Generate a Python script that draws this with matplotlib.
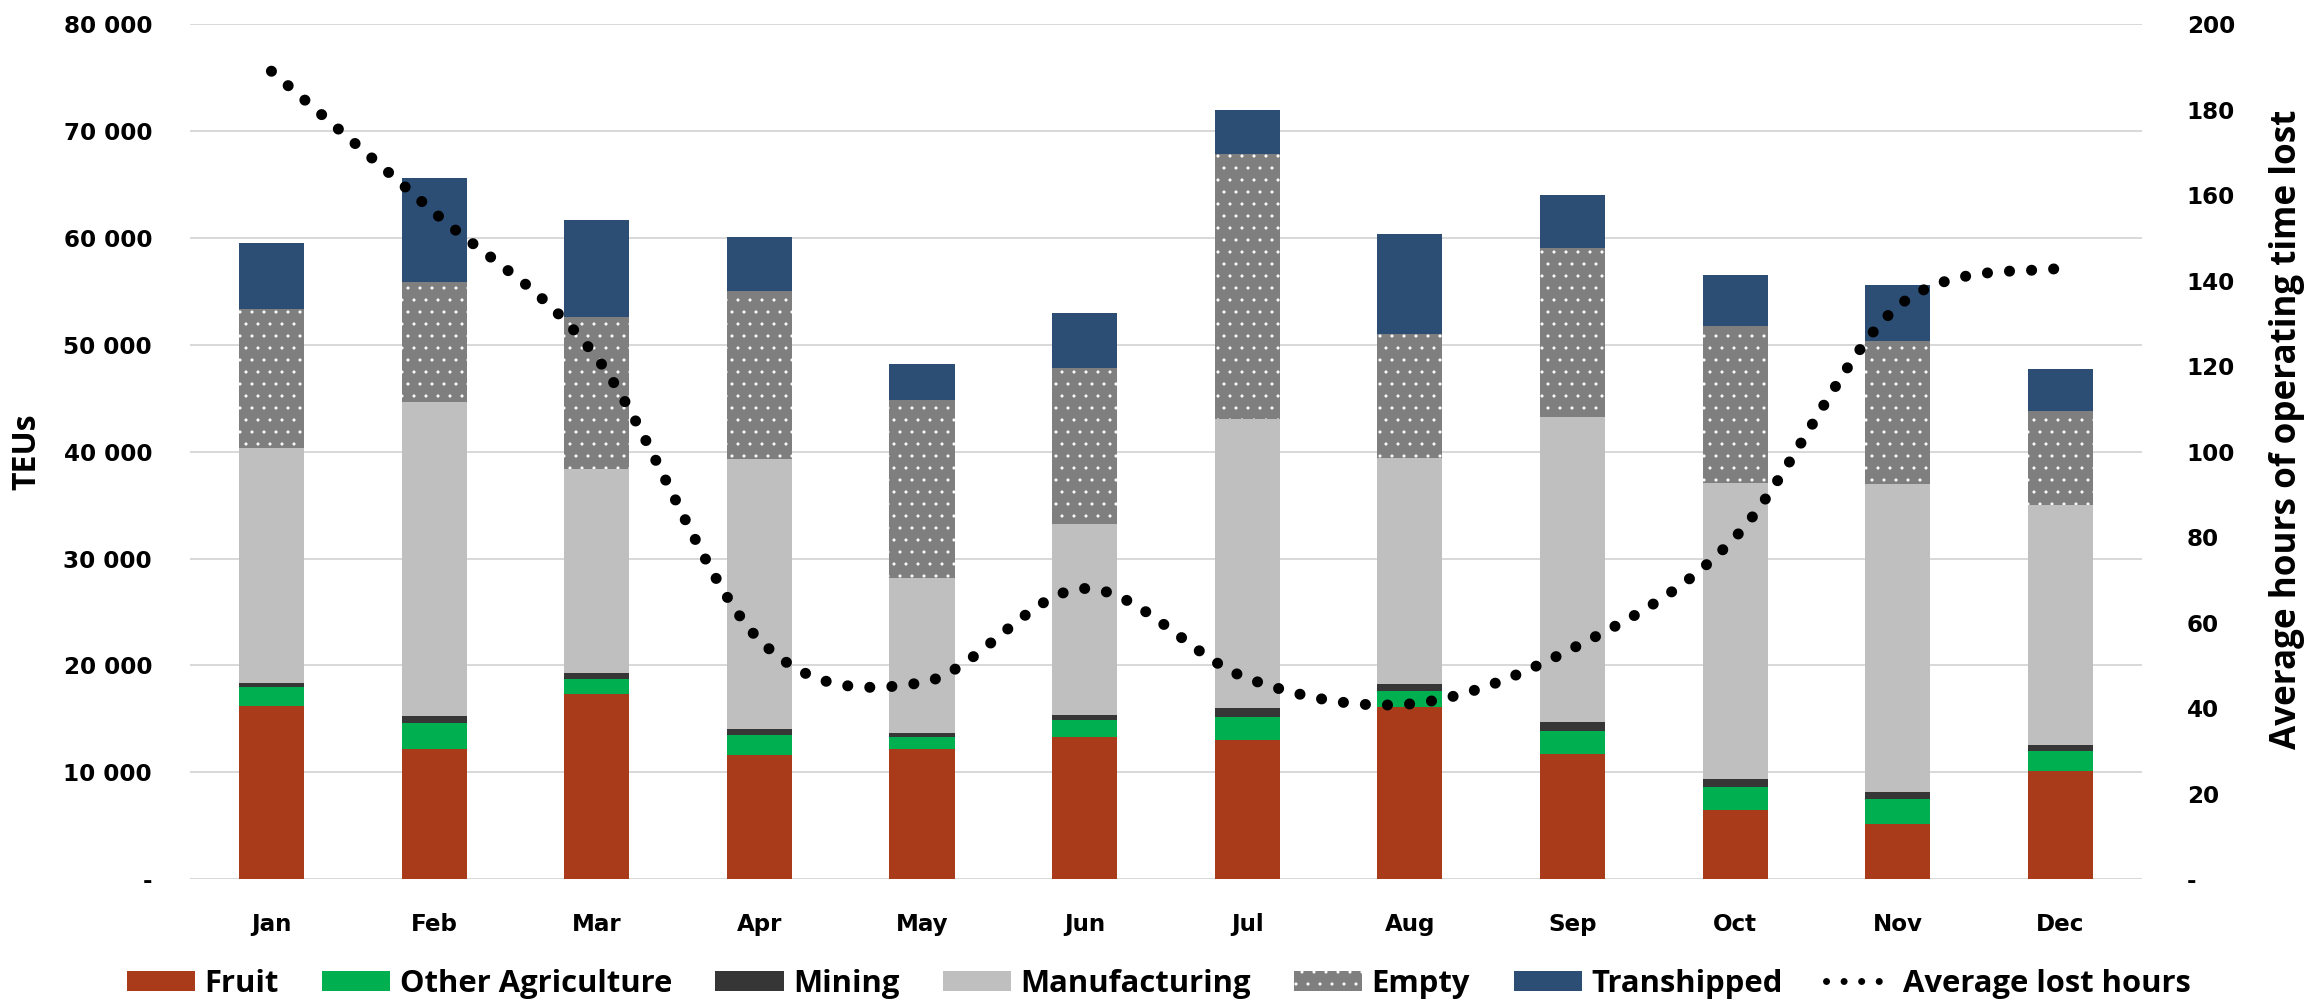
import numpy as np
import matplotlib
matplotlib.use("Agg")
import matplotlib.pyplot as plt
from matplotlib.path import Path
from matplotlib.patches import PathPatch
from matplotlib.lines import Line2D
from matplotlib.font_manager import FontProperties
from matplotlib.ticker import FuncFormatter, MultipleLocator

# monthly TEUs by cargo type, plus average lost operating hours
months = ["Jan", "Feb", "Mar", "Apr", "May", "Jun",
          "Jul", "Aug", "Sep", "Oct", "Nov", "Dec"]
fruit = [16250, 12170, 17290, 11580, 12230, 13290, 13070, 16130, 11760, 6520, 5210, 10170]
other_agri = [1690, 2430, 1430, 1960, 1060, 1590, 2130, 1500, 2130, 2120, 2280, 1840]
mining = [440, 660, 590, 530, 410, 500, 840, 680, 810, 780, 680, 560]
manufacturing = [21960, 29420, 19030, 25240, 14510, 17820, 27050, 21130, 28580, 27660, 28770, 22430]
empty = [13050, 11240, 14300, 15770, 16660, 14660, 24790, 11610, 15820, 14660, 13390, 8840]
transhipped = [6120, 9710, 8990, 5050, 3340, 5090, 4120, 9300, 4940, 4830, 5250, 3870]
lost_hours = [189, 156, 122, 56, 46, 68, 47, 41, 54, 80, 134, 143]

series = [
    ("Fruit", fruit, "#a93a1a", None),
    ("Other Agriculture", other_agri, "#00b050", None),
    ("Mining", mining, "#363636", None),
    ("Manufacturing", manufacturing, "#bfbfbf", None),
    ("Empty", empty, "#7f7f7f", "."),
    ("Transhipped", transhipped, "#2c4e75", None),
]

DPI = 72
plt.rcParams["hatch.linewidth"] = 0.6
TICK_FONT = dict(family="DejaVu Sans", weight="bold", size=23)
LEGEND_FONT = dict(family="Open Sans", weight="bold", size=31)


def smooth_path(xs, ys):
    # Catmull-Rom style bezier through the points (smoothed line)
    pts = np.column_stack([xs, ys]).astype(float)
    n = len(pts)
    verts = [pts[0]]
    codes = [Path.MOVETO]
    for i in range(n - 1):
        p0 = pts[max(i - 1, 0)]
        p1 = pts[i]
        p2 = pts[i + 1]
        p3 = pts[min(i + 2, n - 1)]
        verts += [p1 + (p2 - p0) / 6.0, p2 - (p3 - p1) / 6.0, p2]
        codes += [Path.CURVE4] * 3
    return Path(verts, codes)


def teu_fmt(v, pos):
    if v == 0:
        return "-"
    return "{:,.0f}".format(v).replace(",", " ")


def hours_fmt(v, pos):
    if v == 0:
        return "-"
    return "{:.0f}".format(v)


fig = plt.figure(figsize=(2318 / DPI, 1006 / DPI), dpi=DPI)
ax = fig.add_axes([0.082, 0.126, 0.842, 0.850])
x = np.arange(len(months))

bottom = np.zeros(len(months))
for name, vals, color, hatch in series:
    vals = np.asarray(vals, dtype=float)
    if hatch:
        ax.bar(x, vals, 0.4, bottom=bottom, color=color, hatch=hatch,
               edgecolor="white", linewidth=0, label=name, zorder=2)
    else:
        ax.bar(x, vals, 0.4, bottom=bottom, color=color, linewidth=0,
               label=name, zorder=2)
    bottom += vals

ax.set_xlim(-0.5, len(months) - 0.5)
ax.set_ylim(0, 80000)
ax.yaxis.set_major_locator(MultipleLocator(10000))
ax.yaxis.set_major_formatter(FuncFormatter(teu_fmt))
ax.yaxis.grid(True, color="#d9d9d9", linewidth=2)
ax.set_axisbelow(True)
ax.set_xticks(x)
ax.set_xticklabels(months)
for s in ax.spines.values():
    s.set_visible(False)
ax.tick_params(axis="both", length=0)
ax.tick_params(axis="y", pad=38)
ax.tick_params(axis="x", pad=34)
for lbl in ax.get_xticklabels() + ax.get_yticklabels():
    lbl.set_fontproperties(FontProperties(**TICK_FONT))
ax.set_ylabel("TEUs", fontdict=dict(family="Open Sans", weight="bold", size=32))
ax.yaxis.set_label_coords(-0.075, 0.5)

ax2 = ax.twinx()
ax2.set_ylim(0, 200)
ax2.yaxis.set_major_locator(MultipleLocator(20))
ax2.yaxis.set_major_formatter(FuncFormatter(hours_fmt))
for s in ax2.spines.values():
    s.set_visible(False)
ax2.tick_params(axis="y", length=0, pad=45)
for lbl in ax2.get_yticklabels():
    lbl.set_fontproperties(FontProperties(**TICK_FONT))
ax2.set_ylabel("Average hours of operating time lost",
               fontdict=dict(family="Open Sans", weight="bold", size=35))
ax2.yaxis.set_label_coords(1.065, 0.5265)

line = PathPatch(smooth_path(x, lost_hours), fill=False, edgecolor="black",
                 linewidth=11, linestyle=(0, (0.01, 2.0)), capstyle="round",
                 zorder=3)
ax2.add_patch(line)

handles, labels = ax.get_legend_handles_labels()
handles.append(Line2D([], [], color="black", linewidth=7,
                      linestyle=(0, (0.01, 2.5)), dash_capstyle="round"))
labels.append("Average lost hours")
fig.legend(handles, labels, loc="center", bbox_to_anchor=(0.5, 0.022),
           ncol=7, frameon=False, prop=LEGEND_FONT,
           handlelength=2.2, handleheight=0.66, handletextpad=0.3,
           columnspacing=1.4)

fig.savefig("out.png", dpi=DPI)
